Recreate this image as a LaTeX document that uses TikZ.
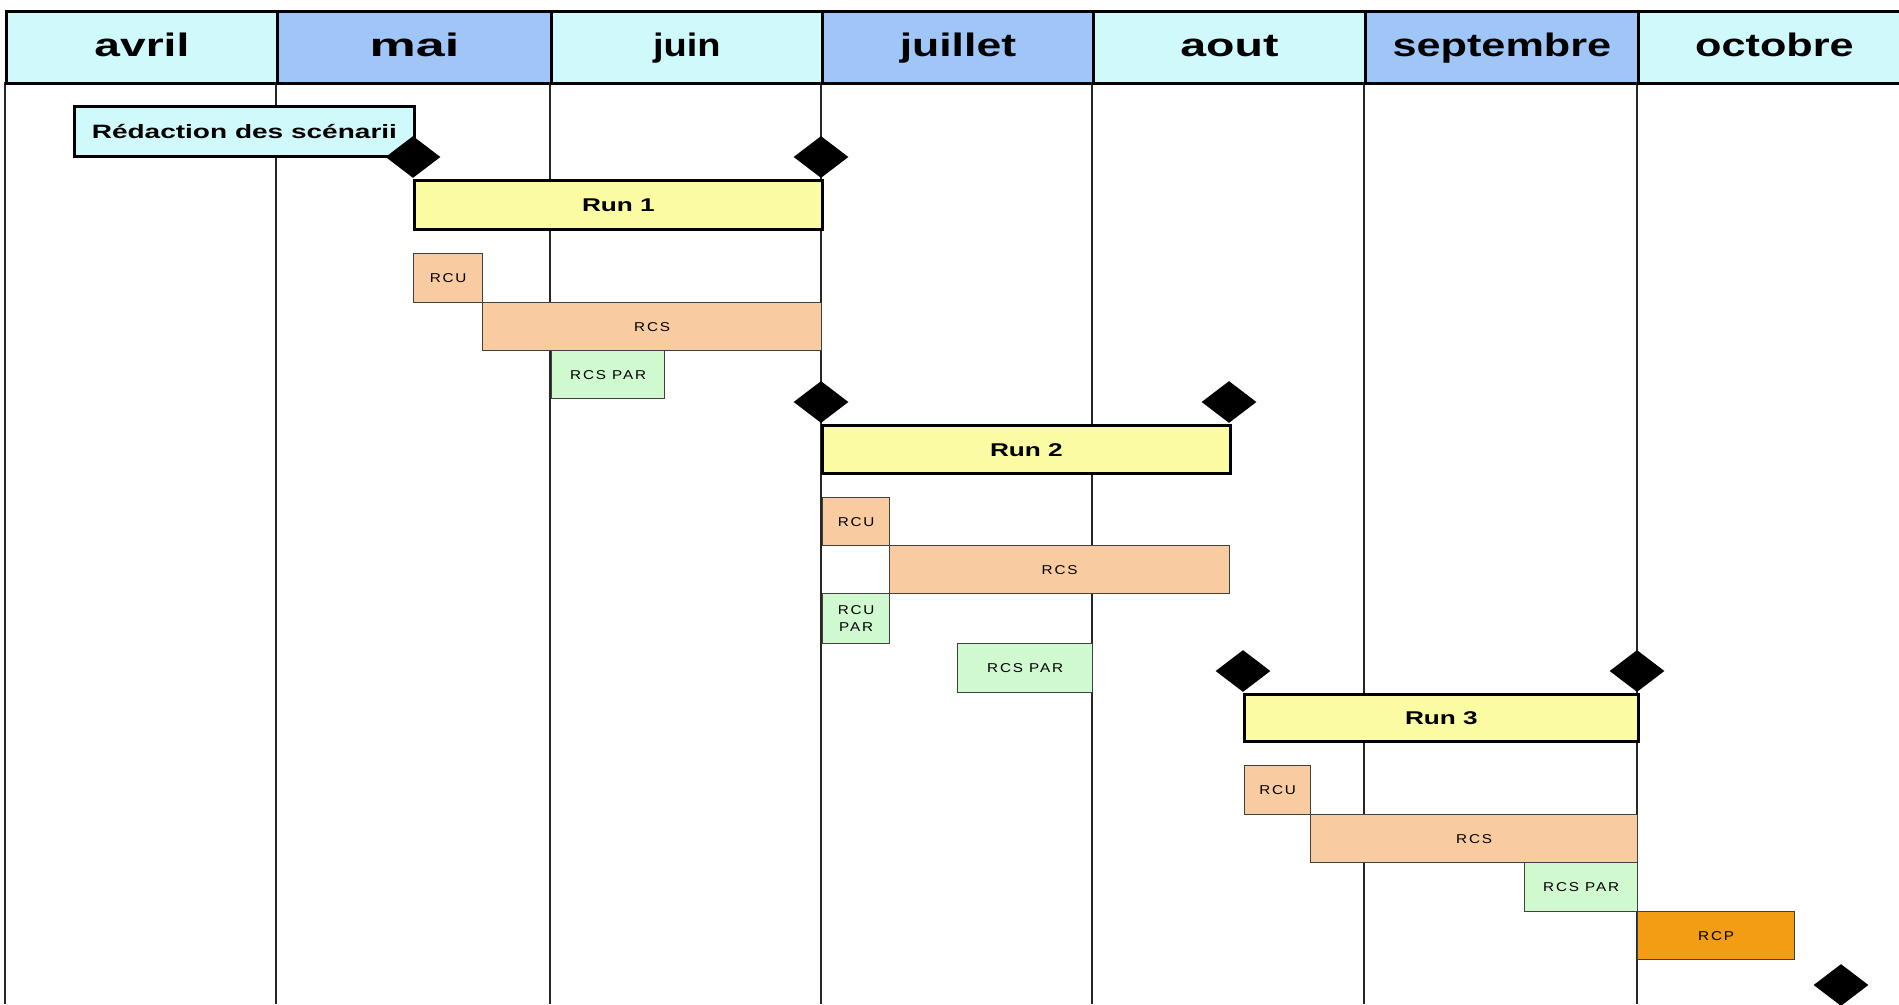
\documentclass[tikz,border=0pt]{standalone}
\usepackage{fontspec}
\setmainfont{Liberation Sans}
\usetikzlibrary{shapes.geometric}

\definecolor{moisclair}{HTML}{D0F9FB}
\definecolor{moisfonce}{HTML}{9FC6F6}
\definecolor{runjaune}{HTML}{FAFBA2}
\definecolor{tachepeche}{HTML}{F8CCA0}
\definecolor{tachevert}{HTML}{D0F9D0}
\definecolor{tacheorange}{HTML}{F39D14}

% texte etire en largeur, comme sur le planning d'origine
\newcommand{\etire}[2][1.42]{\scalebox{#1}[1]{#2}}
\newcommand{\petit}[1]{\scalebox{1.19}[1]{#1}}

\begin{document}
\begin{tikzpicture}[x=0.02cm,y=-0.02cm]
  \tikzstyle{taille}=[minimum width=#1*0.02cm]
  \tikzstyle{haut}=[minimum height=#1*0.02cm]
  \tikzstyle{mois}=[draw=black,line width=1.6pt,inner sep=0pt,anchor=north west,haut=72,
                    text height=10.2pt,text depth=0pt,
                    font=\fontsize{18.5}{22}\selectfont\bfseries]
  \tikzstyle{grille}=[draw=black!85,line width=0.8pt]
  \tikzstyle{run}=[draw=black,line width=1.6pt,fill=runjaune,inner sep=0pt,
                   anchor=north west,text height=7.5pt,text depth=0pt,
                   font=\fontsize{10.5}{12}\selectfont\bfseries]
  \tikzstyle{tache}=[draw=black!75,line width=0.7pt,inner sep=0pt,align=center,
                     anchor=north west,haut=49,text height=5.2pt,text depth=0pt,
                     font=\fontsize{7.3}{9.6}\selectfont\addfontfeature{LetterSpace=12}]
  \tikzstyle{jalon}=[diamond,fill=black,inner sep=0pt,
                     minimum width=1.1cm,minimum height=0.84cm]

  \useasboundingbox (0,0) rectangle (1899,1004);
  \clip (0,0) rectangle (1899,1004);

  % en-tete des mois
  \foreach \nom/\xa/\w/\sx/\teinte in {avril/5/271/1.42/moisclair,mai/276/274/1.6/moisfonce,
      juin/550/271/1.17/moisclair,juillet/821/271/1.37/moisfonce,aout/1092/272/1.43/moisclair,
      septembre/1364/273/1.33/moisfonce,octobre/1637/272/1.33/moisclair}
  {
    \draw[grille] (\xa,82) -- (\xa,1004);
    \node[mois,fill=\teinte,taille=\w] (m-\nom) at (\xa,10) {\etire[\sx]{\nom}};
  }

  % preparation
  \node[run,fill=moisclair,font=\fontsize{11}{13}\selectfont\bfseries,text height=7.9pt,
        taille=340,haut=50] (redac) at (73,105) {\etire[1.45]{Rédaction des scénarii}};

  % run 1
  \node[run,taille=408,haut=49]                  (run1)    at (413,179) {\etire{Run 1}};
  \node[tache,fill=tachepeche,taille=69]         (rcu1)    at (413,253) {\petit{RCU}};
  \node[tache,fill=tachepeche,taille=339,haut=48] (rcs1)   at (482,302) {\petit{RCS}};
  \node[tache,fill=tachevert,taille=113,haut=48] (rcspar1) at (551,350) {\petit{RCS PAR}};

  % run 2
  \node[run,taille=408,haut=48]                  (run2)    at (821,424) {\etire{Run 2}};
  \node[tache,fill=tachepeche,taille=67,haut=48] (rcu2)    at (822,497) {\petit{RCU}};
  \node[tache,fill=tachepeche,taille=340,haut=48] (rcs2)   at (889,545) {\petit{RCS}};
  \node[tache,fill=tachevert,taille=67,haut=50,text height=14.8pt]
                                                 (rcupar2) at (822,593) {\petit{RCU}\\\petit{PAR}};
  \node[tache,fill=tachevert,taille=135]         (rcspar2) at (957,643) {\petit{RCS PAR}};

  % run 3
  \node[run,taille=394,haut=47]                  (run3)    at (1243,693) {\etire{Run 3}};
  \node[tache,fill=tachepeche,taille=66]         (rcu3)    at (1244,765) {\petit{RCU}};
  \node[tache,fill=tachepeche,taille=327,haut=48] (rcs3)   at (1310,814) {\petit{RCS}};
  \node[tache,fill=tachevert,taille=113]         (rcspar3) at (1524,862) {\petit{RCS PAR}};
  \node[tache,fill=tacheorange,taille=157,haut=48] (rcp)   at (1637,911) {\petit{RCP}};

  % jalons
  \node[jalon] (j1a) at (413,157)  {};
  \node[jalon] (j1b) at (821,157)  {};
  \node[jalon] (j2a) at (821,402)  {};
  \node[jalon] (j2b) at (1229,402) {};
  \node[jalon] (j3a) at (1243,671) {};
  \node[jalon] (j3b) at (1637,671) {};
  \node[jalon] (j4)  at (1841,985) {};
\end{tikzpicture}
\end{document}
